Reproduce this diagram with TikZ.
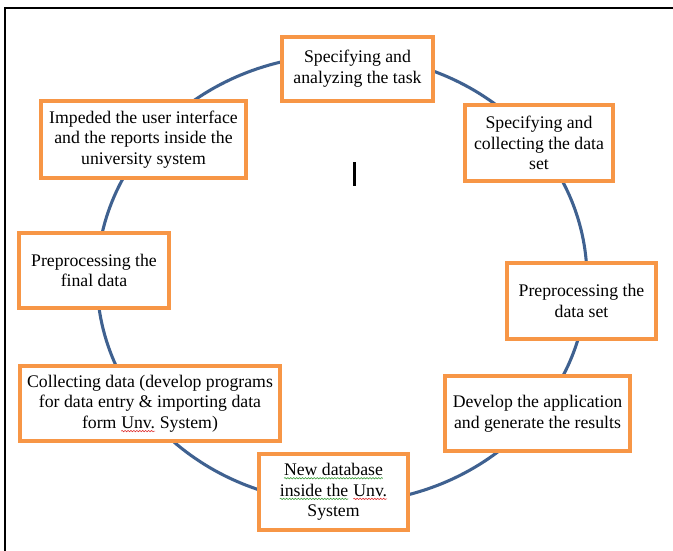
\documentclass[tikz,border=0pt]{standalone}
\usepackage{fontspec}
\setmainfont{Liberation Serif}
\usetikzlibrary{decorations.pathmorphing}
\definecolor{boxorange}{HTML}{F79646}
\definecolor{ringblue}{HTML}{3F6190}
\definecolor{spellred}{HTML}{E03030}
\definecolor{spellgreen}{HTML}{3CA03C}
\newcommand\wavyline[2]{\tikz[baseline=(w.base)]{\node[inner sep=0pt,outer sep=0pt,minimum width=0pt,minimum height=0pt,draw=none,fill=none] (w) {#2};\draw[#1,line width=0.45pt,decorate,decoration={snake,amplitude=0.5pt,segment length=2.2pt}] ([yshift=-2pt]w.base west) -- ([yshift=-2pt]w.base east);}}
\begin{document}
\begin{tikzpicture}[x=0.75pt,y=-0.75pt,
  stage/.style={draw=boxorange,line width=3pt,fill=white,align=center,
    font=\fontsize{13.3}{15.5}\selectfont,inner sep=0pt},
  ring/.style={draw=ringblue,line width=2.3pt},
  frameline/.style={draw=black,line width=1.8pt}]
\useasboundingbox (0,0) rectangle (673,550);
\fill[white] (0,0) rectangle (673,550);
\draw[frameline] (5,551) -- (5,8) -- (674,8);
\draw[ring] (342,279) ellipse [x radius=183.75pt, y radius=168pt];
\draw[line width=2pt] (354.5,162) -- (354.5,186);

\node[stage,minimum width=113.25pt,minimum height=48pt] (t1) at (357.5,69)
  {Specifying and\\analyzing the task};
\node[stage,minimum width=111pt,minimum height=57pt] (t2) at (539,143)
  {Specifying and\\collecting the data\\set};
\node[stage,minimum width=111.75pt,minimum height=57pt] (t3) at (581.5,301)
  {Preprocessing the\\data set};
\node[stage,minimum width=138.75pt,minimum height=56.25pt] (t4) at (537.5,413.5)
  {Develop the application\\and generate the results};
\node[stage,minimum width=111.75pt,minimum height=57pt] (t5) at (333.5,492)
  {\wavyline{spellgreen}{New database}\\\wavyline{spellgreen}{inside the}\ \wavyline{spellred}{Unv.}\\System};
\node[stage,minimum width=195pt,minimum height=56.25pt] (t6) at (150,403.5)
  {Collecting data (develop programs\\for data entry \& importing data\\form \wavyline{spellred}{Unv.} System)};
\node[stage,minimum width=112.5pt,minimum height=56.25pt] (t7) at (94,270.5)
  {Preprocessing the\\final data};
\node[stage,minimum width=153.75pt,minimum height=57.75pt] (t8) at (143.5,139.5)
  {Impeded the user interface\\and the reports inside the\\university system};
\end{tikzpicture}
\end{document}
